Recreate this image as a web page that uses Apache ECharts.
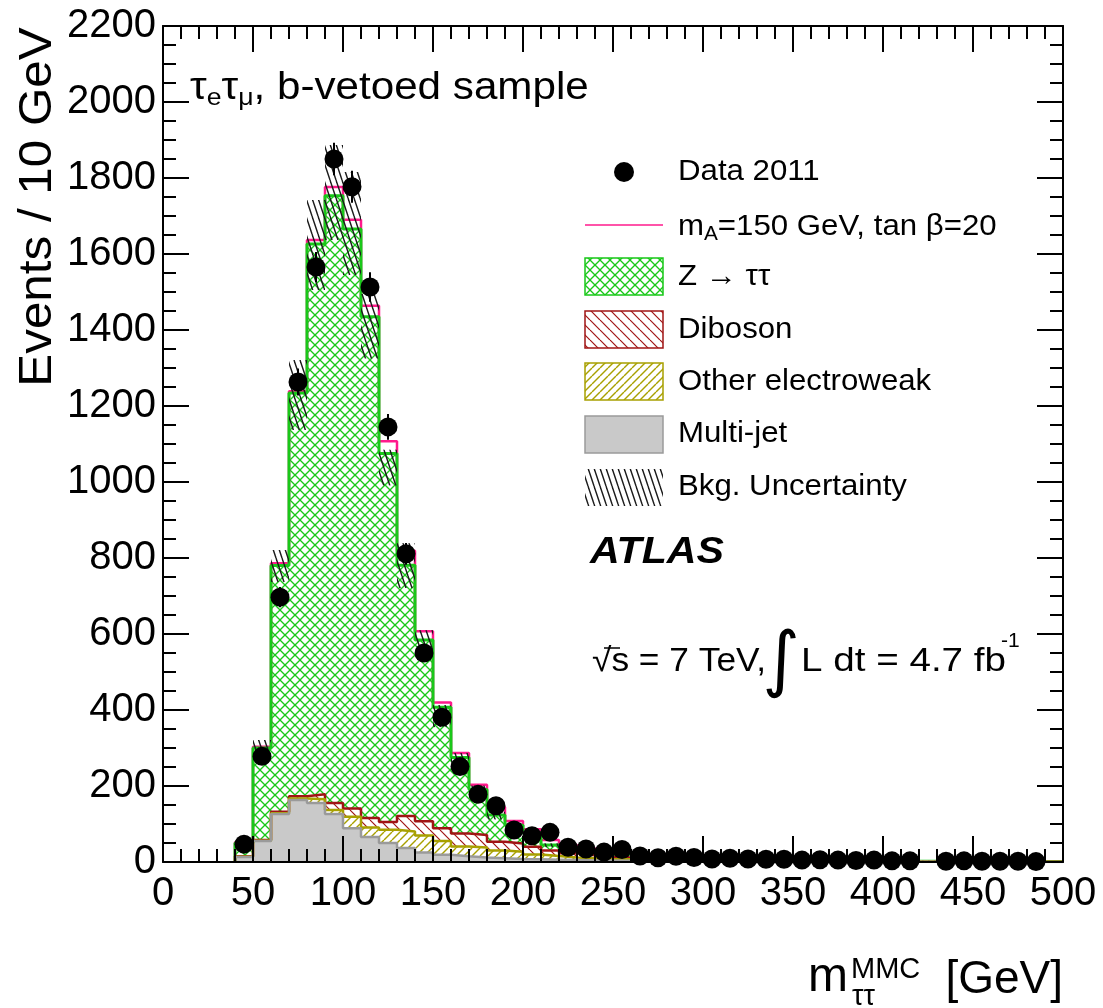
<!DOCTYPE html>
<html><head><meta charset="utf-8">
<script src="https://cdn.jsdelivr.net/npm/echarts/dist/echarts.min.js"></script>
<style>html,body{margin:0;padding:0;background:#fff}#c{width:1103px;height:1008px}</style>
</head><body><div id="c"></div>
<script>
// ---- data ----
const binLow = [40,50,60,70,80,90,100,110,120,130,140,150,160,170,180,190,200,210,220,230,240,250,260,270,280,290,300,310,320,330,340,350,360,370,380,390,400,410,420,430,440,450,460,470,480,490];
const binWidth = 10;
const multijet = [13,55,126,163,155,126,89,66,50,37, 25,19,15,12,10,8,7,6,5,4, 4,3,3,2,2,2,1,1,1,1, 1,1,1,1,0.5,0.5,0.5,0.5,0.5,0.3, 0.3,0.3,0.3,0.3,0.3,0.3];
const otherEW  = [1,1,2,4,10,11,30,25,35,43, 45,36,26,26,20,19,13,10,7,6, 4,4,3,3,2,2,2,1,1,1, 1,1,1,0.5,0.5,0.5,0.5,0.5,0.5,0.3, 0.3,0.3,0.3,0.3,0.3,0.3];
const diboson  = [1,2,4,6,13,18,22,25,20,41, 37,34,34,33,23,22,20,14,11,8, 6,5,4,3,3,2,2,2,1,1, 1,1,0.5,0.5,0.5,0.5,0.5,0.5,0.5,0.3, 0.3,0.3,0.3,0.3,0.3,0.3];
const ztautau  = [35,242,648,1061,1448,1598,1525,1319,970,660, 477,318,200,120,71,48,36,15,15,12, 10,8,5,4,3,3,2,2,2,2, 1,1,1,1,1,1,1,0.5,0.5,0.5, 0.5,0.5,0.5,0.5,0.5,0.5];
const signalA150 = [2,3,6,5,11,23,24,29,32,38, 23,13,12,12,21,11,10,13,7,6, 5,4,3,2,2,1,1,1,1,0, 0,0,0,0,0,0,0,0,0,0, 0,0,0,0,0,0];
const data2011 = [47,278,697,1263,1566,1850,1777,1513,1145,811, 550,381,251,178,148,84,69,78,39,34, 26,33,16,11,15,12,8,10,8,7, 7,5,6,5,4,5,3,3,null,2, 3,2,2,2,1,null];
const uncDown = [5,24,43,97,121,116,121,110,84,60, 53,52,20,15,12,10,8,6,5,4, 3,3,2,2,2,1,1,1,1,1, 1,1,1,1,1,1,1,1,1,1, 1,1,1,1,1,1];
const uncUp   = [5,21,41,87,116,134,150,60,10,58, 26,6,12,10,8,6,5,4,3,3, 2,2,2,2,1,1,1,1,1,1, 1,1,1,1,1,1,1,1,1,1, 1,1,1,1,1,1];

// ---- helpers ----
const FONT = '"Liberation Sans", Arial, Helvetica, sans-serif';
function cumulate(arrs){ return binLow.map((_,i)=>arrs.reduce((s,a)=>s+a[i],0)); }
const cumMJ = cumulate([multijet]);
const cumEW = cumulate([multijet, otherEW]);
const cumDB = cumulate([multijet, otherEW, diboson]);
const cumZ  = cumulate([multijet, otherEW, diboson, ztautau]);
const cumSig= cumulate([multijet, otherEW, diboson, ztautau, signalA150]);
function stepData(cum){
  const n = binLow.length;
  const pts = [[binLow[0],0]];
  for (let i=0;i<n;i++) pts.push([binLow[i], cum[i]]);
  pts.push([binLow[n-1]+binWidth, cum[n-1]]);
  pts.push([binLow[n-1]+binWidth, 0]);
  return pts;
}
function hatch(w,h,color,lw,dirs,bg){
  const c=document.createElement('canvas'); c.width=w; c.height=h;
  const g=c.getContext('2d');
  if(bg){g.fillStyle=bg; g.fillRect(0,0,w,h);}
  g.strokeStyle=color; g.lineWidth=lw;
  for(const d of dirs){
    for(let k=-1;k<=1;k++){
      g.beginPath();
      if(d==='\\'){ g.moveTo(k*w,0); g.lineTo(k*w+w,h); }
      else { g.moveTo(k*w,h); g.lineTo(k*w+w,0); }
      g.stroke();
    }
  }
  return {image:c, repeat:'repeat'};
}
const GREEN='#19c819', RED='#a01414', OLIVE='#a8a000', PINK='#ff1a8c', GRAYF='#c9c9c9', GRAYL='#9a9a9a';
const patZ  = hatch(10,10,GREEN,1.3,['\\','/'],'#fff');
const patDB = hatch(10,10,RED,1.2,['\\'],'#fff');
const patEW = hatch(8,8,OLIVE,1.4,['/'],'#fff');
const patUnc= hatch(6,18,'#1a1a1a',1.4,['\\'],null);

function stackSeries(name, cum, lineColor, lw, area){
  const s = {name, type:'line', step:'end', data:stepData(cum), symbol:'none', silent:true,
    xAxisIndex:0, yAxisIndex:0, z:2, lineStyle:{color:lineColor, width:lw}};
  if(area) s.areaStyle = {color:area, opacity:1};
  return s;
}

const axisCommon = {
  axisLine:{show:true, onZero:false, lineStyle:{color:'#000', width:2}},
  axisTick:{show:true, inside:true, length:26, lineStyle:{color:'#000', width:2}},
  splitLine:{show:false}, minorSplitLine:{show:false}, z:10
};
const minor = n => ({show:true, splitNumber:n, length:13, lineStyle:{color:'#000', width:2}});
const plain = v => String(v);

const chart = echarts.init(document.getElementById('c'), null, {renderer:'canvas'});
const txt = (x,y,text,font,extra) => Object.assign({type:'text', z:20, x, y,
  style:Object.assign({x:0, y:0, text, font, fill:'#000', textVerticalAlign:'middle'}, (extra&&extra.style)||{})},
  extra?{scaleX:extra.scaleX||1, rotation:extra.rotation||0}:{});
const option = {
  animation:false,
  backgroundColor:'#fff',
  grid:{left:163, right:40, top:26, bottom:146, containLabel:false},
  xAxis:[
    Object.assign({type:'value', min:0, max:500, interval:50, position:'bottom',
      axisLabel:{fontSize:40, color:'#000', margin:12, fontFamily:FONT, formatter:plain}, minorTick:minor(5)}, axisCommon),
    Object.assign({type:'value', min:0, max:500, interval:50, position:'top',
      axisLabel:{show:false}, minorTick:minor(5)}, axisCommon)
  ],
  yAxis:[
    Object.assign({type:'value', min:0, max:2200, interval:200, position:'left',
      axisLabel:{fontSize:40, color:'#000', margin:7, fontFamily:FONT, formatter:plain}, minorTick:minor(4)}, axisCommon),
    Object.assign({type:'value', min:0, max:2200, interval:200, position:'right',
      axisLabel:{show:false}, minorTick:minor(4)}, axisCommon)
  ],
  series:[
    stackSeries('signal', cumSig, PINK, 2.5, null),
    stackSeries('Z', cumZ, GREEN, 3, patZ),
    stackSeries('Diboson', cumDB, RED, 2.5, patDB),
    stackSeries('Other EW', cumEW, OLIVE, 2.5, patEW),
    stackSeries('Multi-jet', cumMJ, GRAYL, 2.5, GRAYF),
    {type:'custom', name:'unc', silent:true, z:3, xAxisIndex:0, yAxisIndex:0,
      encode:{x:0, y:[1,2]},
      data: binLow.map((b,i)=>[b, cumZ[i]-uncDown[i], cumZ[i]+uncUp[i]]),
      renderItem:(params, api)=>{
        const lo=api.value(0), y0=api.value(1), y1=api.value(2);
        const p0=api.coord([lo,y1]), p1=api.coord([lo+binWidth,y0]);
        return {type:'rect', shape:{x:p0[0], y:p0[1], width:p1[0]-p0[0], height:p1[1]-p0[1]},
          style:{fill:patUnc, stroke:null}};
      }},
    {type:'custom', name:'err', silent:true, z:4, xAxisIndex:0, yAxisIndex:0,
      encode:{x:0, y:1},
      data: binLow.map((b,i)=>data2011[i]==null?[b+binWidth/2,'-']:[b+binWidth/2, data2011[i]]),
      renderItem:(params, api)=>{
        const x=api.value(0), v=api.value(1);
        if(isNaN(v)) return null;
        const e=Math.sqrt(v);
        const a=api.coord([x,v-e]), b=api.coord([x,v+e]);
        return {type:'line', shape:{x1:a[0], y1:a[1], x2:b[0], y2:b[1]}, style:{stroke:'#000', lineWidth:2}};
      }},
    {type:'scatter', name:'Data 2011', silent:true, z:5, symbol:'circle', symbolSize:19,
      itemStyle:{color:'#000', opacity:1, borderWidth:0},
      data: binLow.map((b,i)=>data2011[i]==null?null:[b+binWidth/2, data2011[i]]).filter(d=>d)}
  ],
  graphic:[
    // top-left label
    {type:'text', z:20, x:190, y:90, scaleX:1.11, style:{x:0, y:0, text:'{a|τ}{s|e}{a|τ}{s|μ}{a|, b-vetoed sample}',
      textVerticalAlign:'middle', fill:'#000',
      rich:{a:{fontSize:38, fontFamily:FONT, lineHeight:40, verticalAlign:'top'},
            s:{fontSize:24, fontFamily:FONT, lineHeight:18, verticalAlign:'bottom'}}}},
    // legend
    {type:'circle', z:20, shape:{cx:624, cy:172, r:10}, style:{fill:'#000'}},
    txt(678,172,'Data 2011','30px '+FONT,{scaleX:1.04}),
    {type:'line', z:20, shape:{x1:585, y1:225, x2:663, y2:225}, style:{stroke:PINK, lineWidth:1.5}},
    {type:'text', z:20, x:678, y:228, scaleX:1.04, style:{x:0, y:0, text:'{a|m}{s|A}{a|=150 GeV, tan β=20}', textVerticalAlign:'middle', fill:'#000',
      rich:{a:{fontSize:30, fontFamily:FONT, lineHeight:32, verticalAlign:'top'},
            s:{fontSize:20, fontFamily:FONT, lineHeight:14, verticalAlign:'bottom'}}}},
    {type:'rect', z:20, shape:{x:585, y:258, width:78, height:37}, style:{fill:patZ, stroke:GREEN, lineWidth:1.5}},
    txt(678,277,'Z → ττ','30px '+FONT,{scaleX:1.04}),
    {type:'rect', z:20, shape:{x:585, y:311, width:78, height:37}, style:{fill:patDB, stroke:RED, lineWidth:1.5}},
    txt(678,330,'Diboson','30px '+FONT,{scaleX:1.04}),
    {type:'rect', z:20, shape:{x:585, y:363, width:78, height:37}, style:{fill:patEW, stroke:OLIVE, lineWidth:1.5}},
    txt(678,382,'Other electroweak','30px '+FONT,{scaleX:1.04}),
    {type:'rect', z:20, shape:{x:585, y:416, width:78, height:37}, style:{fill:GRAYF, stroke:GRAYL, lineWidth:1.5}},
    txt(678,434,'Multi-jet','30px '+FONT,{scaleX:1.04}),
    {type:'rect', z:20, shape:{x:585, y:469, width:78, height:37}, style:{fill:patUnc}},
    txt(678,487,'Bkg. Uncertainty','30px '+FONT,{scaleX:1.04}),
    // ATLAS
    txt(590,553,'ATLAS','italic bold 37px '+FONT,{scaleX:1.11}),
    // sqrt s, luminosity
    txt(592,662,'√s = 7 TeV,','33px '+FONT,{scaleX:1.07}),
    {type:'line', z:20, shape:{x1:604, y1:648, x2:620, y2:648}, style:{stroke:'#000', lineWidth:1.5}},
    {type:'text', z:20, style:{x:781, y:664, text:'∫', font:'italic 72px "DejaVu Sans", '+FONT, fill:'#000', textAlign:'center', textVerticalAlign:'middle'}},
    txt(801,662,'L dt = 4.7 fb','33px '+FONT,{scaleX:1.17}),
    txt(1001,641,'-1','21px '+FONT,{}),
    // axis titles
    {type:'text', z:20, x:38, y:207, rotation:Math.PI/2, scaleX:1.05, style:{x:0, y:0, text:'Events / 10 GeV', font:'47px '+FONT, fill:'#000', textAlign:'center', textVerticalAlign:'middle'}},
    txt(808,978,'m','48px '+FONT,{}),
    txt(851,970,'MMC','29px '+FONT,{}),
    txt(852,997,'ττ','29px '+FONT,{}),
    {type:'text', z:20, style:{x:1063, y:980, text:'[GeV]', font:'46px '+FONT, fill:'#000', textAlign:'right', textVerticalAlign:'middle'}}
  ]
};
chart.setOption(option);
</script></body></html>
